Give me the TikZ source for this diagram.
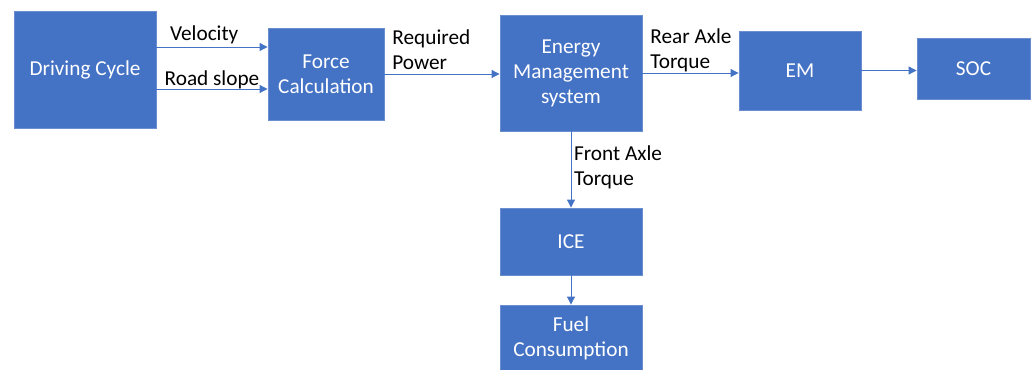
\documentclass[tikz,border=0pt]{standalone}
\usepackage{fontspec}
\setmainfont{Carlito}
\usetikzlibrary{arrows.meta}

\definecolor{officeblue}{HTML}{4472C4}
\definecolor{boxedge}{HTML}{6A8ED0}

\begin{document}
\begin{tikzpicture}[
  font=\fontsize{12.1}{14.2}\selectfont,
  block/.style={draw=boxedge, line width=0.5pt, fill=officeblue, text=white, align=center, inner sep=0pt},
  flow/.style={-{Triangle[length=1.6mm, width=1.6mm]}, line width=0.55pt, draw=officeblue},
  lbl/.style={text=black, align=left, inner sep=1.5pt}
]

% frame of the picture (1033 x 370 px at 0.02 cm per px)
\useasboundingbox (0,0) rectangle (20.66,-7.40);

% top row of blocks
\node[block, minimum width=2.84cm, minimum height=2.34cm] (cycle) at (1.70,-1.39) {Driving Cycle};
\node[block, minimum width=2.32cm, minimum height=1.84cm] (force) at (6.52,-1.48) {Force\\Calculation};
\node[block, minimum width=2.84cm, minimum height=2.32cm] (ems) at (11.42,-1.46) {Energy\\Management\\system};
\node[block, minimum width=2.44cm, minimum height=1.58cm] (em) at (16.00,-1.41) {EM};
\node[block, minimum width=2.26cm, minimum height=1.22cm] (soc) at (19.47,-1.37) {SOC};

% engine branch
\node[block, minimum width=2.84cm, minimum height=1.34cm] (ice) at (11.42,-4.83) {ICE};
\node[block, minimum width=2.84cm, minimum height=1.34cm] (fuel) at (11.42,-6.77) {Fuel\\Consumption};

% signals between the blocks
\draw[flow] ([yshift=0.45cm]cycle.east) -- node[lbl, above, pos=0.43] {Velocity} ([yshift=0.45cm]cycle.east -| force.west);
\draw[flow] ([yshift=-0.39cm]cycle.east) -- node[lbl, above, pos=0.5, inner sep=0pt] {Road slope} ([yshift=-0.39cm]cycle.east -| force.west);
\draw[flow] (force.east) -- (force.east -| ems.west);
\node[lbl, anchor=south west] (power) at ([xshift=0.1cm, yshift=0.02cm]force.east) {Required\\Power};
\draw[flow] (ems.east) -- (ems.east -| em.west);
\node[lbl, anchor=south west] (reartq) at ([xshift=0.1cm, yshift=-0.04cm]ems.east) {Rear Axle\\Torque};
\draw[flow] (em.east) -- (em.east -| soc.west);
\draw[flow] (ems.south) -- node[lbl, right, pos=0.47] {Front Axle\\Torque} (ice.north);
\draw[flow] (ice.south) -- (fuel.north);

\end{tikzpicture}
\end{document}
